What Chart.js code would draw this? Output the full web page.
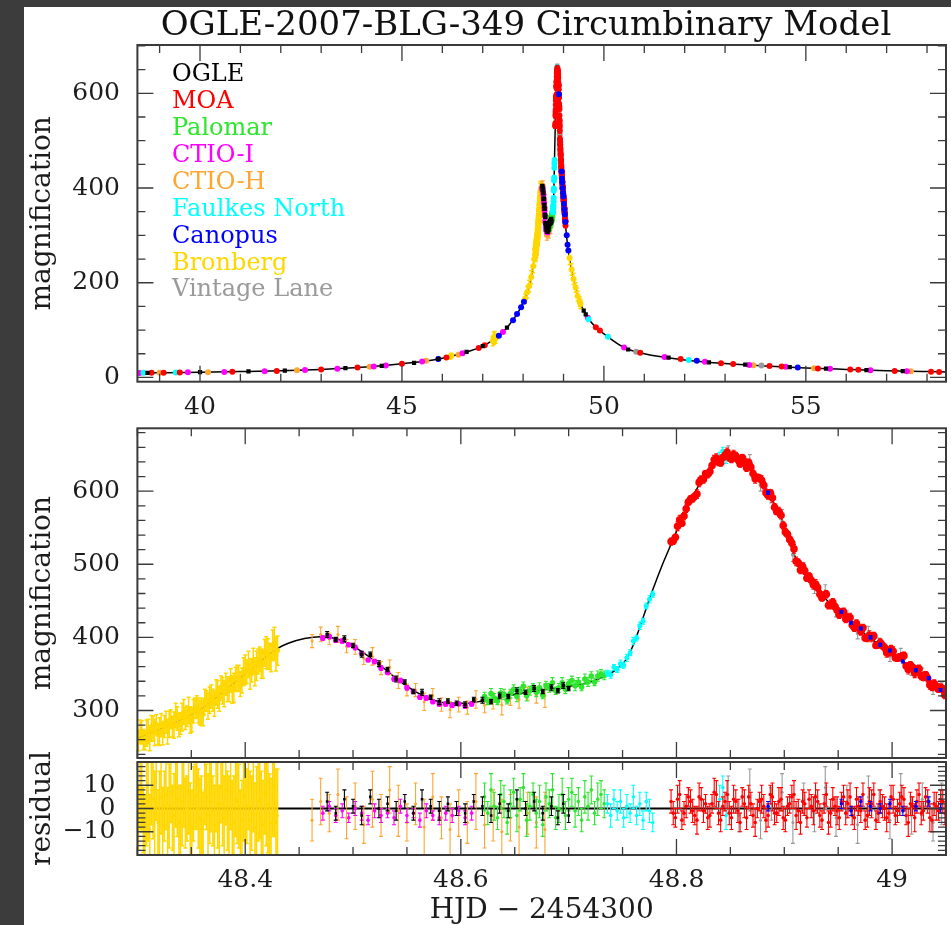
<!DOCTYPE html>
<html>
<head>
<meta charset="utf-8">
<script src="https://cdn.jsdelivr.net/npm/chart.js@4.4.0/dist/chart.umd.min.js"></script>
<style>
  body { margin: 0; background: #3c3c3c; }
  #page { position: relative; width: 951px; height: 925px; overflow: hidden; }
  #paper { position: absolute; left: 24px; top: 7px; right: 0; bottom: 0; background: #fff; }
  canvas { position: absolute; left: 0; }
</style>
</head>
<body>
<div id="page">
  <div id="paper"></div>
  <canvas id="overview" width="951" height="420" style="top:0"></canvas>
  <canvas id="zoomed" width="951" height="342" style="top:420px"></canvas>
  <canvas id="resid" width="951" height="183" style="top:742px"></canvas>
</div>
<script>
// time axis is HJD - 2454300
const TITLE = "OGLE-2007-BLG-349 Circumbinary Model";
const SITE_NAMES = ["OGLE", "MOA", "Palomar", "CTIO-I", "CTIO-H", "Faulkes North", "Canopus", "Bronberg", "Vintage Lane"];
const SITE_COLORS = ["#000000", "#ff0000", "#2ee62e", "#ff00ff", "#ffa530", "#00ffff", "#0000ff", "#ffd700", "#9a9a9a"];

// tick labels
const TOP_X_TICKS = [40, 45, 50, 55];
const TOP_Y_TICKS = [0, 200, 400, 600];
const MID_Y_TICKS = [300, 400, 500, 600];
const RES_X_TICKS = [48.4, 48.6, 48.8, 49];
const RES_Y_TICKS = [-10, 0, 10];

// model light curve around the peak
const MODEL_T = [48.300, 48.320, 48.340, 48.360, 48.380, 48.400, 48.420, 48.430, 48.440, 48.455, 48.470, 48.485, 48.500, 48.520, 48.540, 48.560, 48.575, 48.590, 48.605, 48.620, 48.640, 48.665, 48.700, 48.720, 48.735, 48.745, 48.754, 48.760, 48.766, 48.772, 48.778, 48.786, 48.794, 48.809, 48.828, 48.840, 48.849, 48.858, 48.868, 48.883, 48.899, 48.911, 48.930, 48.951, 48.976, 49.007, 49.030, 49.050];
const MODEL_A = [262, 274, 287, 303, 326, 350, 374, 385, 392, 398.5, 401, 398, 388, 368, 344, 324, 314, 310, 310, 313, 319, 326, 333, 339, 348, 357, 371, 390, 414, 440, 465, 496, 524, 575, 625, 643, 648, 644, 633, 603, 557, 507, 466, 435, 403, 371, 345, 322];
// model wings for the full view
const WING_LEFT_T = [38.45, 39, 40, 41, 42, 43, 44, 45, 45.5, 46, 46.5, 47, 47.3, 47.6, 47.9, 48.1, 48.2];
const WING_LEFT_A = [9.5, 10, 11, 12.3, 14, 17, 21.5, 29, 33.5, 40.5, 51, 66, 82, 105, 141, 180, 212];
const WING_RIGHT_T = [49.1, 49.2, 49.3, 49.4, 49.5, 49.6, 49.8, 50, 50.5, 51, 52, 53, 54, 55, 56, 57, 58, 58.47];
const WING_RIGHT_A = [280, 228, 190, 160, 141, 126, 106, 92, 63, 50, 37, 29.5, 24.3, 20, 17, 14.3, 12.3, 11.5];
const ZERO_T = [48.3, 49.05];
const ZERO_R = [0, 0];

// OGLE
const OGLE_T = [48.476, 48.484, 48.492, 48.500, 48.508, 48.516, 48.524, 48.532, 48.540, 48.548, 48.556, 48.564, 48.572, 48.580, 48.588, 48.596, 48.604, 48.612, 48.620, 48.628, 48.636, 48.644, 48.652, 48.660, 48.668, 48.676, 48.684, 48.690, 48.695, 48.700];
const OGLE_A = [404, 397, 398, 389, 377, 377, 364, 356, 343, 339, 326, 325, 318, 312, 313, 310, 308, 315, 314, 312, 320, 319, 327, 325, 330, 326, 331, 327, 334, 330];
const OGLE_E = [4, 3, 4, 3, 4, 3, 4, 3, 4, 3, 3, 4, 3, 4, 3, 3, 4, 3, 4, 3, 4, 3, 4, 3, 4, 3, 4, 3, 4, 3];
const OGLE_R = [3, -2, 4, 1, -3, 5, 0, 2, -1, 3, -2, 4, 1, -1, 2, 0, -2, 3, 1, -3, 2, -1, 4, 0, 3, -2, 1, -4, 2, -3];
const OGLE_WIDE_T = [38.7, 40.0, 41.2, 42.1, 43.6, 44.5, 45.3, 45.9, 46.6, 47.0, 47.6, 49.5, 49.55, 50.6, 51.6, 52.6, 53.5, 54.6, 55.5, 56.5, 57.4];
const OGLE_WIDE_A = [9.8, 11, 12.6, 14.2, 19.5, 24.5, 31, 39, 54, 66, 105, 141, 133, 59, 42, 32, 27, 22, 18.5, 15.5, 13.4];

// MOA (two interleaved runs)
const MOA_T = [48.795, 48.799, 48.803, 48.807, 48.811, 48.815, 48.819, 48.823, 48.827, 48.831,
  48.835, 48.839, 48.843, 48.847, 48.851, 48.855, 48.859, 48.863, 48.867, 48.871,
  48.875, 48.879, 48.883, 48.887, 48.891, 48.895, 48.899, 48.903, 48.907, 48.911,
  48.915, 48.919, 48.923, 48.927, 48.931, 48.935, 48.939, 48.943, 48.947, 48.951,
  48.955, 48.959, 48.963, 48.967, 48.971, 48.975, 48.979, 48.983, 48.987, 48.991,
  48.995, 48.999, 49.003, 49.007, 49.011, 49.015, 49.019, 49.023, 49.027, 49.031,
  49.035, 49.039, 49.043, 49.047,
  48.797, 48.801, 48.805, 48.809, 48.813, 48.817, 48.821, 48.825, 48.829, 48.833,
  48.837, 48.841, 48.845, 48.849, 48.853, 48.857, 48.861, 48.865, 48.869, 48.873,
  48.877, 48.881, 48.885, 48.889, 48.893, 48.897, 48.901, 48.905, 48.909, 48.913,
  48.917, 48.921, 48.925, 48.929, 48.933, 48.937, 48.941, 48.945, 48.949, 48.953,
  48.957, 48.961, 48.965, 48.969, 48.973, 48.977, 48.981, 48.985, 48.989, 48.993,
  48.997, 49.001, 49.005, 49.009, 49.013, 49.017, 49.021, 49.025, 49.029, 49.033,
  49.037, 49.041, 49.045, 49.049];
const MOA_A = [531, 537, 561, 566, 585, 590, 596, 616, 624, 627,
  643, 640, 646, 653, 644, 648, 637, 641, 639, 624,
  619, 615, 598, 598, 578, 572, 553, 541, 529, 504,
  492, 491, 484, 472, 468, 454, 459, 445, 442, 431,
  435, 427, 417, 419, 408, 399, 403, 402, 390, 389,
  379, 384, 372, 373, 375, 356, 359, 356, 347, 349,
  335, 337, 329, 329,
  532, 552, 556, 576, 589, 593, 612, 616, 623, 635,
  645, 639, 649, 646, 650, 643, 646, 632, 633, 617,
  618, 608, 594, 591, 572, 567, 544, 534, 521, 502,
  497, 481, 478, 473, 459, 458, 444, 448, 437, 435,
  425, 427, 413, 413, 413, 399, 400, 389, 393, 386,
  379, 381, 372, 374, 361, 362, 351, 357, 345, 344,
  332, 333, 332, 321];
const MOA_E = [5, 4, 6, 5, 4, 5, 6, 5, 4, 5, 6, 5, 4, 6, 5, 5, 4, 6, 5, 5, 4, 6, 5, 4, 5, 6, 5, 4, 5, 6, 5, 5, 4, 6, 5, 4, 5, 6, 4, 5, 5, 6, 4, 5, 5, 4, 6, 5, 4, 5, 6, 5, 4, 5, 5, 6, 4, 5, 5, 4, 6, 5, 4, 5,
  5, 6, 4, 5, 5, 4, 6, 5, 5, 4, 6, 5, 4, 5, 6, 5, 4, 5, 5, 6, 4, 5, 5, 6, 4, 5, 5, 4, 6, 5, 5, 4, 5, 6, 5, 4, 5, 5, 6, 4, 5, 6, 5, 4, 5, 5, 6, 4, 5, 5, 4, 6, 5, 5, 4, 5, 6, 5, 4, 5, 5, 6, 4, 5];
const MOA_R = [3, -4, 6, -2, 5, -1, -5, 4, 2, -3, 7, -2, 1, 6, -4, 3, -6, 2, 5, -3, 0, 4, -5, 6, -2, 3, -4, 1, 5, -3, -6, 2, 4, -1, 3, -5, 6, -2, 1, -4, 5, 2, -3, 4, -1, -5, 3, 6, -2, 1, -4, 5, -3, 2, 4, -6, 1, 3, -2, 5, -4, 2, -1, 3,
  -2, 4, -5, 1, 3, -3, 5, -1, -4, 2, 6, -5, 3, -2, 4, -1, 5, -4, 2, -6, 3, 1, -3, 5, -2, 4, -5, 2, 6, -1, 3, -4, 1, 5, -3, 2, -6, 4, -1, 3, -2, 5, -4, 1, 6, -3, 2, -5, 3, 0, -2, 4, -1, 5, -3, 2, -4, 6, -1, 3, -5, 1, 4, -2];
const MOA_WIDE_T = [38.8, 39.1, 39.5, 40.8, 41.9, 43.0, 43.9, 45.0, 46.1, 46.9, 47.05, 49.8, 49.9, 50.9, 51.9, 52.9, 53.2, 54.1, 54.4, 55.3, 56.1, 56.3, 57.2, 58.1, 58.3];
const MOA_WIDE_A = [9.9, 10.1, 10.5, 12, 13.8, 17, 21, 29, 42, 62, 68, 106, 99, 52, 39, 30, 28.5, 24, 23, 19, 16.5, 16, 13.8, 12, 11.6];

// Palomar
const PAL_T = [48.622, 48.625, 48.628, 48.631, 48.634, 48.637, 48.640, 48.643, 48.646, 48.649, 48.652, 48.655, 48.658, 48.661, 48.664, 48.667, 48.670, 48.673, 48.676, 48.679, 48.682, 48.685, 48.688, 48.691, 48.694, 48.697, 48.700, 48.703, 48.706, 48.709, 48.712, 48.715, 48.718, 48.721, 48.724, 48.727, 48.730, 48.733];
const PAL_A = [319, 313, 323, 317, 313, 324, 322, 314, 323, 329, 319, 327, 333, 320, 327, 332, 325, 331, 321, 334, 331, 338, 327, 331, 338, 329, 337, 341, 334, 339, 332, 343, 339, 347, 339, 347, 350, 348];
const PAL_E = [6, 5, 7, 6, 5, 6, 7, 5, 6, 6, 7, 5, 6, 7, 6, 5, 6, 7, 5, 6, 6, 7, 5, 6, 7, 6, 5, 6, 7, 6, 5, 7, 6, 6, 5, 7, 6, 6];
const PAL_R = [5, -2, 8, 1, -4, 6, 3, -6, 2, 7, -3, 4, 9, -5, 1, 6, -2, 3, -7, 5, 2, 8, -4, 0, 6, -3, 4, 7, -1, 3, -5, 5, 1, 8, -2, 4, 6, 2];
const PAL_WIDE_T = [];
const PAL_WIDE_A = [];

// CTIO I band
const CTIOI_T = [48.472, 48.478, 48.484, 48.490, 48.496, 48.502, 48.508, 48.514, 48.520, 48.526, 48.532, 48.538, 48.544, 48.550, 48.556, 48.562, 48.568, 48.574, 48.580, 48.586, 48.592, 48.598, 48.604, 48.610];
const CTIOI_A = [399, 401, 396, 395, 390, 386, 378, 369, 367, 358, 352, 343, 341, 331, 326, 318, 317, 312, 309, 309, 307, 309, 306, 309];
const CTIOI_E = [3, 2, 3, 3, 2, 3, 3, 2, 3, 3, 2, 3, 3, 3, 2, 3, 3, 2, 3, 3, 3, 2, 3, 3];
const CTIOI_R = [-2, 1, -3, -1, -4, 0, -2, -5, -1, -3, -2, -4, 1, -3, -2, -5, -1, -3, -4, -2, -3, -1, -4, -2];
const CTIOI_WIDE_T = [38.5, 39.7, 40.6, 41.6, 42.6, 43.4, 44.3, 44.6, 45.5, 46.5, 47.5, 49.6, 50.5, 51.5, 52.5, 53.6, 54.5, 55.6, 56.6, 57.5];
const CTIOI_WIDE_A = [9.6, 10.7, 11.7, 13.3, 15.6, 18.6, 23.2, 25.2, 33.5, 51, 96, 126, 63, 43, 33, 26.5, 22.5, 18.2, 15.2, 13.2];

// CTIO H band
const CTIOH_T = [48.462, 48.470, 48.478, 48.486, 48.494, 48.502, 48.510, 48.518, 48.526, 48.534, 48.542, 48.550, 48.558, 48.566, 48.574, 48.582, 48.590, 48.598, 48.606, 48.614, 48.622, 48.630, 48.638, 48.646, 48.654, 48.662, 48.670, 48.678];
const CTIOH_A = [395, 404, 398, 404, 388, 387, 371, 374, 358, 359, 341, 328, 328, 312, 320, 308, 301, 308, 304, 315, 307, 313, 308, 317, 315, 323, 321, 320];
const CTIOH_E = [9, 10, 8, 11, 9, 10, 8, 12, 9, 10, 11, 8, 9, 12, 10, 9, 11, 10, 9, 12, 10, 11, 14, 10, 12, 9, 11, 16];
const CTIOH_R = [-5, 3, -2, 6, -4, 1, -7, 4, -3, 8, -1, -6, 2, -8, 5, -4, -9, -2, -6, 3, -7, -3, -10, -4, -8, -2, -6, -9];
const CTIOH_WIDE_T = [39.0, 40.2, 42.4, 44.2, 45.6, 46.4, 53.7, 55.2, 57.6];
const CTIOH_WIDE_A = [10, 11.2, 15, 22.6, 35, 48, 26, 19.5, 13];

// Faulkes North
const FTN_T = [48.736, 48.739, 48.742, 48.745, 48.748, 48.751, 48.754, 48.757, 48.760, 48.763, 48.766, 48.769, 48.772, 48.775, 48.778, 48.840, 48.843, 48.846];
const FTN_A = [351, 349, 359, 356, 364, 362, 372, 379, 395, 399, 416, 422, 443, 452, 459, 647, 655, 644];
const FTN_E = [4, 5, 4, 4, 5, 4, 5, 4, 5, 4, 5, 4, 4, 5, 4, 6, 5, 6];
const FTN_R = [2, -3, 4, -1, 3, -4, 1, -2, 5, -3, 2, -5, 3, -1, -6, 4, 9, -3];
const FTN_WIDE_T = [38.6, 39.4, 49.62, 50.1, 52.1];
const FTN_WIDE_A = [9.7, 10.4, 123, 86, 37];

// Canopus
const CAN_T = [48.885, 48.953, 48.962, 48.971, 48.980, 48.989, 48.998, 49.010, 49.022, 49.034, 49.045];
const CAN_A = [598, 435, 420, 412, 400, 390, 382, 367, 355, 344, 328];
const CAN_E = [2, 2, 2, 2, 2, 2, 2, 2, 2, 2, 2];
const CAN_R = [1, 2, -1, 3, 1, 0, 2, -1, 1, 3, 0];
const CAN_WIDE_T = [45.9, 47.4, 47.75, 47.85, 47.95, 48.02, 49.08, 49.1, 49.12, 52.3, 54.8];
const CAN_WIDE_A = [39, 88, 121, 134, 148, 160, 300, 280, 268, 35, 21];

// Bronberg (two interleaved runs)
const BRON_T = [48.301, 48.304, 48.307, 48.310, 48.313, 48.316, 48.319, 48.322, 48.325, 48.328, 48.331, 48.334, 48.337, 48.340, 48.343, 48.346, 48.349, 48.352, 48.355, 48.358, 48.361, 48.364, 48.367, 48.370, 48.373, 48.376, 48.379, 48.382, 48.385, 48.388, 48.391, 48.394, 48.397, 48.400, 48.403, 48.406, 48.409, 48.412, 48.415, 48.418, 48.421, 48.424, 48.427, 48.430,
  48.3025, 48.3055, 48.3085, 48.3115, 48.3145, 48.3175, 48.3205, 48.3235, 48.3265, 48.3295, 48.3325, 48.3355, 48.3385, 48.3415, 48.3445, 48.3475, 48.3505, 48.3535, 48.3565, 48.3595, 48.3625, 48.3655, 48.3685, 48.3715, 48.3745, 48.3775, 48.3805, 48.3835, 48.3865, 48.3895, 48.3925, 48.3955, 48.3985, 48.4015, 48.4045, 48.4075, 48.4105, 48.4135, 48.4165, 48.4195, 48.4225, 48.4255, 48.4285];
const BRON_A = [259, 270, 259, 271, 278, 270, 267, 280, 278, 271, 288, 280, 289, 282, 298, 292, 287, 299, 305, 297, 295, 313, 314, 314, 325, 315, 327, 336, 329, 329, 343, 344, 341, 356, 363, 355, 353, 367, 364, 379, 377, 372, 392, 382,
  271, 260, 269, 260, 275, 281, 271, 269, 284, 281, 278, 293, 280, 291, 289, 300, 287, 303, 300, 298, 314, 306, 319, 309, 322, 332, 323, 329, 341, 331, 344, 336, 353, 353, 350, 367, 361, 370, 363, 379, 374, 389, 377];
const BRON_E = [14, 16, 13, 17, 15, 18, 14, 16, 15, 17, 13, 18, 16, 15, 17, 14, 18, 16, 15, 17, 16, 14, 18, 15, 17, 16, 18, 15, 17, 19, 16, 18, 17, 20, 18, 16, 19, 17, 20, 18, 21, 19, 22, 20,
  16, 14, 18, 15, 17, 13, 19, 16, 15, 18, 14, 17, 16, 19, 15, 18, 16, 14, 17, 19, 15, 18, 16, 17, 19, 15, 18, 17, 16, 20, 18, 17, 19, 16, 21, 18, 20, 17, 19, 22, 18, 21, 23];
const BRON_R = [-4, 6, -7, 3, 8, -2, -6, 5, 1, -8, 7, -3, 4, -5, 9, 0, -7, 2, 6, -4, -9, 5, 3, -1, 7, -6, 2, 8, -3, -7, 4, 1, -5, 6, 9, -2, -8, 3, -4, 7, 2, -6, 10, -3,
  7, -5, 2, -9, 4, 8, -3, -7, 6, 1, -4, 9, -6, 3, -2, 7, -8, 5, 0, -5, 8, -3, 6, -7, 2, 9, -4, -1, 7, -6, 3, -9, 5, 1, -5, 8, -2, 4, -7, 6, -3, 9, -6];
const BRON_WIDE_T = [46.2, 46.22, 47.25, 47.27, 47.28, 47.3, 47.32, 48.05, 48.1, 48.15, 48.2, 48.25, 48.28, 49.15, 49.2, 49.25, 49.3, 49.35, 49.4, 49.42];
const BRON_WIDE_A = [44, 46, 77, 84, 80, 86, 82, 166, 180, 193, 212, 235, 250, 252, 228, 208, 190, 172, 160, 155];
const BRON_WIDE_E = [5, 5, 10, 12, 10, 11, 10, 10, 12, 12, 14, 14, 14, 14, 12, 12, 10, 10, 10, 10];

// Vintage Lane
const VL_T = [48.848, 48.858, 48.868, 48.878, 48.888, 48.898, 48.908, 48.918, 48.928, 48.938, 48.948, 48.958, 48.968, 48.978, 48.988, 48.998, 49.008, 49.018, 49.028, 49.038, 49.046];
const VL_A = [654, 641, 641, 608, 591, 567, 513, 495, 468, 463, 436, 429, 406, 406, 392, 375, 376, 356, 351, 330, 329];
const VL_E = [8, 7, 9, 8, 7, 8, 9, 7, 8, 9, 8, 7, 8, 9, 7, 8, 9, 8, 7, 8, 9];
const VL_R = [6, -3, 8, -5, 2, 7, -6, 4, -2, 9, -4, 3, -7, 5, 1, -5, 6, -3, 4, -6, 2];
const VL_WIDE_T = [50.8, 53.9];
const VL_WIDE_A = [54, 25];

// ---------- assembly ----------
const FONT = "'DejaVu Serif', 'Liberation Serif', serif";
const INK = "#1c1c1c";

const SITES = [
  { t: OGLE_T, a: OGLE_A, e: OGLE_E, r: OGLE_R, wt: OGLE_WIDE_T, wa: OGLE_WIDE_A },
  { t: MOA_T, a: MOA_A, e: MOA_E, r: MOA_R, wt: MOA_WIDE_T, wa: MOA_WIDE_A },
  { t: PAL_T, a: PAL_A, e: PAL_E, r: PAL_R, wt: PAL_WIDE_T, wa: PAL_WIDE_A },
  { t: CTIOI_T, a: CTIOI_A, e: CTIOI_E, r: CTIOI_R, wt: CTIOI_WIDE_T, wa: CTIOI_WIDE_A },
  { t: CTIOH_T, a: CTIOH_A, e: CTIOH_E, r: CTIOH_R, wt: CTIOH_WIDE_T, wa: CTIOH_WIDE_A },
  { t: FTN_T, a: FTN_A, e: FTN_E, r: FTN_R, wt: FTN_WIDE_T, wa: FTN_WIDE_A },
  { t: CAN_T, a: CAN_A, e: CAN_E, r: CAN_R, wt: CAN_WIDE_T, wa: CAN_WIDE_A },
  { t: BRON_T, a: BRON_A, e: BRON_E, r: BRON_R, wt: BRON_WIDE_T, wa: BRON_WIDE_A, we: BRON_WIDE_E },
  { t: VL_T, a: VL_A, e: VL_E, r: VL_R, wt: VL_WIDE_T, wa: VL_WIDE_A }
];
// drawing order (lower = on top), marker sizes, error bar weight
const LOOK = [
  { order: 0, mid: 2.5, res: 1.8, style: "rect", bar: 1.1 },
  { order: 2, mid: 3.8, res: 1.8, style: "circle", bar: 1.1 },
  { order: 4, mid: 2.8, res: 1.8, style: "circle", bar: 1.1 },
  { order: 5, mid: 2.8, res: 1.8, style: "circle", bar: 1.1 },
  { order: 6, mid: 1.5, res: 1.5, style: "circle", bar: 1.1 },
  { order: 3, mid: 2.5, res: 1.8, style: "circle", bar: 1.1 },
  { order: 1, mid: 2, res: 1.8, style: "circle", bar: 1.1 },
  { order: 8, mid: 2.5, res: 1.5, style: "circle", bar: 1.5 },
  { order: 7, mid: 2, res: 1.5, style: "circle", bar: 1.1 }
];

function pts(t, v, e) {
  return t.map((x, i) => ({ x: x, y: v[i], e: e ? e[i] : null }));
}

function siteSet(i, data, radius) {
  return {
    label: SITE_NAMES[i],
    site: i,
    data: data,
    borderColor: SITE_COLORS[i],
    backgroundColor: SITE_COLORS[i],
    pointRadius: radius,
    pointBorderWidth: 0,
    pointStyle: LOOK[i].style,
    order: LOOK[i].order,
    errorBars: true,
    barWidth: LOOK[i].bar
  };
}

function curveSet(t, v, width) {
  return {
    label: "model",
    data: pts(t, v),
    showLine: true,
    pointRadius: 0,
    borderColor: "#000",
    borderWidth: width,
    cubicInterpolationMode: "monotone",
    order: 20
  };
}

const topSets = [curveSet(WING_LEFT_T.concat(MODEL_T, WING_RIGHT_T), WING_LEFT_A.concat(MODEL_A, WING_RIGHT_A), 1.5)];
const midSets = [curveSet(MODEL_T, MODEL_A, 1.5)];
const resSets = [curveSet(ZERO_T, ZERO_R, 2)];
SITES.forEach((s, i) => {
  topSets.push(siteSet(i, pts(s.wt, s.wa, s.we).concat(pts(s.t, s.a, s.e)), 3));
  midSets.push(siteSet(i, pts(s.t, s.a, s.e), LOOK[i].mid));
  resSets.push(siteSet(i, pts(s.t, s.r, s.e), LOOK[i].res));
});

// ---------- plugins ----------
const errorBars = {
  id: "errorBars",
  beforeDatasetDraw(chart, args) {
    const ds = chart.data.datasets[args.index];
    if (!ds.errorBars) return;
    const { ctx, chartArea: area } = chart;
    const y = chart.scales.y;
    ctx.save();
    ctx.beginPath();
    ctx.rect(area.left, area.top, area.width, area.height);
    ctx.clip();
    ctx.strokeStyle = ds.borderColor;
    ctx.lineWidth = ds.barWidth || 1;
    ctx.beginPath();
    args.meta.data.forEach((el, i) => {
      const d = ds.data[i];
      if (d.e == null) return;
      const hi = y.getPixelForValue(d.y + d.e);
      const lo = y.getPixelForValue(d.y - d.e);
      ctx.moveTo(el.x, hi); ctx.lineTo(el.x, lo);
      ctx.moveTo(el.x - 2, hi); ctx.lineTo(el.x + 2, hi);
      ctx.moveTo(el.x - 2, lo); ctx.lineTo(el.x + 2, lo);
    });
    ctx.stroke();
    ctx.restore();
  }
};

// PGPLOT style box: frame plus inward ticks on all four sides
const frame = {
  id: "frame",
  afterDraw(chart, args, opts) {
    const { ctx, chartArea: a } = chart;
    const x = chart.scales.x, y = chart.scales.y;
    ctx.save();
    ctx.strokeStyle = "#3a3a3a";
    ctx.lineWidth = 1.3;
    ctx.beginPath();
    const xt = (v, len) => {
      const p = x.getPixelForValue(v);
      ctx.moveTo(p, a.top); ctx.lineTo(p, a.top + len);
      ctx.moveTo(p, a.bottom); ctx.lineTo(p, a.bottom - len);
    };
    const yt = (v, len) => {
      const p = y.getPixelForValue(v);
      ctx.moveTo(a.left, p); ctx.lineTo(a.left + len, p);
      ctx.moveTo(a.right, p); ctx.lineTo(a.right - len, p);
    };
    for (let k = Math.ceil(x.min / opts.xStep - 1e-6); k * opts.xStep <= x.max + 1e-9; k++) xt(k * opts.xStep, 8);
    for (let k = Math.ceil(y.min / opts.yStep - 1e-6); k * opts.yStep <= y.max + 1e-9; k++) yt(k * opts.yStep, 8);
    opts.xMajor.forEach(v => xt(v, 16));
    opts.yMajor.forEach(v => yt(v, 16));
    ctx.stroke();
    ctx.lineWidth = 2;
    ctx.strokeRect(a.left, a.top, a.width, a.height);
    ctx.restore();
  }
};

const siteLegend = {
  id: "siteLegend",
  afterDraw(chart, args, opts) {
    if (!opts.show) return;
    const ctx = chart.ctx;
    ctx.save();
    ctx.font = "24px " + FONT;
    ctx.textBaseline = "middle";
    ctx.textAlign = "left";
    chart.data.datasets.filter(d => d.site != null)
      .sort((p, q) => p.site - q.site)
      .forEach((d, i) => {
        ctx.fillStyle = d.borderColor;
        ctx.fillText(d.label, opts.x, opts.y + i * opts.step);
      });
    ctx.restore();
  }
};

// centre the main title over a chosen span instead of the whole canvas
const titleSpan = {
  id: "titleSpan",
  afterLayout(chart, args, opts) {
    const t = chart.titleBlock;
    if (!t || opts.left == null) return;
    t.left = opts.left;
    t.right = opts.right;
    t.width = opts.right - opts.left;
  }
};

function fixedTicks(list) {
  return function (axis) { axis.ticks = list.map(v => ({ value: v })); };
}

// labels may overhang the plot edges; keep the plot box where it is
function noOverhang(axis) {
  axis.paddingTop = 0;
  axis.paddingBottom = 0;
  axis.paddingLeft = 0;
  axis.paddingRight = 0;
}

function tickFont() {
  return { family: FONT, size: 25 };
}

function plainLabel(v) {
  return v < 0 ? "\u2212" + Math.abs(v) : String(v);
}

function xAxis(min, max, ticks, height, labelPad) {
  return {
    type: "linear", min: min, max: max,
    afterBuildTicks: fixedTicks(ticks),
    afterFit: s => { s.height = height; noOverhang(s); },
    grid: { display: false, drawTicks: false },
    border: { display: false },
    ticks: { font: tickFont(), color: INK, padding: labelPad, maxRotation: 0, autoSkip: false, callback: plainLabel }
  };
}

function yAxis(min, max, ticks, text, labelPad) {
  return {
    type: "linear", min: min, max: max,
    afterBuildTicks: fixedTicks(ticks),
    afterFit: s => { s.width = 113.4; noOverhang(s); },
    grid: { display: false, drawTicks: false },
    border: { display: false },
    ticks: { font: tickFont(), color: INK, padding: labelPad, autoSkip: false, callback: plainLabel },
    title: {
      display: true, text: text, color: INK,
      font: { family: FONT, size: 28, lineHeight: 1 },
      padding: { top: 5, bottom: 0 }
    }
  };
}

const common = {
  responsive: false,
  animation: false,
  events: []
};

// ---------- top panel: whole event ----------
new Chart(document.getElementById("overview"), {
  type: "scatter",
  data: { datasets: topSets },
  options: Object.assign({}, common, {
    layout: { padding: { left: 24, right: 5, top: 0, bottom: 0 } },
    plugins: {
      legend: { display: false },
      tooltip: { enabled: false },
      title: {
        display: true,
        text: TITLE,
        color: "#111",
        font: { family: FONT, size: 34, weight: "normal", lineHeight: 1 },
        padding: { top: 9, bottom: 2 }
      },
      titleSpan: { left: 106, right: 946 },
      frame: { xMajor: TOP_X_TICKS, yMajor: TOP_Y_TICKS, xStep: 1, yStep: 50 },
      siteLegend: { show: true, x: 172, y: 75, step: 26.9 }
    },
    scales: {
      x: xAxis(38.45, 58.47, TOP_X_TICKS, 38.3, 11),
      y: yAxis(-9, 702, TOP_Y_TICKS, "magnification", 17.4)
    }
  }),
  plugins: [errorBars, frame, siteLegend, titleSpan]
});

// ---------- middle panel: caustic crossing ----------
new Chart(document.getElementById("zoomed"), {
  type: "scatter",
  data: { datasets: midSets },
  options: Object.assign({}, common, {
    layout: { padding: { left: 24, right: 5, top: 8.3, bottom: 0 } },
    plugins: {
      legend: { display: false },
      tooltip: { enabled: false },
      frame: { xMajor: RES_X_TICKS, yMajor: MID_Y_TICKS, xStep: 0.05, yStep: 20 }
    },
    scales: {
      x: { type: "linear", min: 48.3, max: 49.05, display: false, afterFit: noOverhang },
      y: yAxis(235, 686, MID_Y_TICKS, "magnification", 17.4)
    }
  }),
  plugins: [errorBars, frame]
});

// ---------- bottom panel: residuals ----------
const resX = xAxis(48.3, 49.05, RES_X_TICKS, 70, 10);
resX.title = {
  display: true, text: "HJD \u2212 2454300", color: INK,
  font: { family: FONT, size: 28, lineHeight: 1 },
  padding: { top: 0, bottom: 0 }
};
new Chart(document.getElementById("resid"), {
  type: "scatter",
  data: { datasets: resSets },
  options: Object.assign({}, common, {
    layout: { padding: { left: 24, right: 5, top: 20, bottom: 0 } },
    plugins: {
      legend: { display: false },
      tooltip: { enabled: false },
      frame: { xMajor: RES_X_TICKS, yMajor: RES_Y_TICKS, xStep: 0.05, yStep: 2 }
    },
    scales: {
      x: resX,
      y: yAxis(-20, 20, RES_Y_TICKS, "residual", 22)
    }
  }),
  plugins: [errorBars, frame]
});
</script>
</body>
</html>
